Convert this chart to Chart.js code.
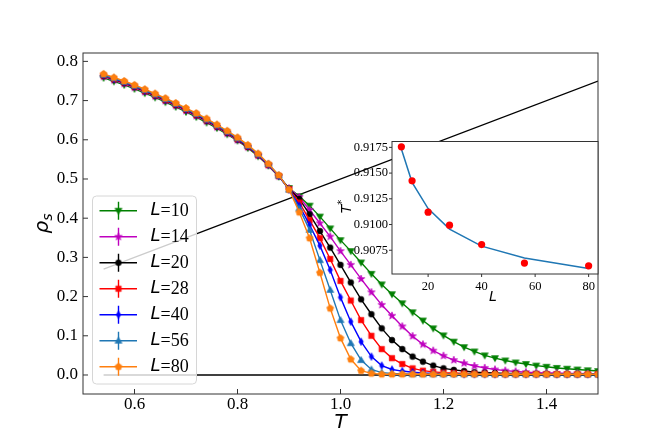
<!DOCTYPE html>
<html>
<head>
<meta charset="utf-8">
<script src="https://cdn.jsdelivr.net/npm/chart.js@4.4.0/dist/chart.umd.min.js"></script>
<style>
    body { margin: 0; background: #fff; }
    #wrap { position: relative; width: 664px; height: 443px; }
    #mainChart { position: absolute; left: 0; top: 0; }
    #insetChart { position: absolute; left: 320px; top: 130px; }
</style>
</head>
<body>
<div id="wrap">
    <canvas id="mainChart" width="664" height="443"></canvas>
    <canvas id="insetChart" width="290" height="180"></canvas>
</div>
<script>
// temperatures of the main plot
const tValues = [0.54, 0.56, 0.58, 0.60, 0.62, 0.64, 0.66, 0.68, 0.70, 0.72,
    0.74, 0.76, 0.78, 0.80, 0.82, 0.84, 0.86, 0.88, 0.90, 0.92,
    0.94, 0.96, 0.98, 1.00, 1.02, 1.04, 1.06, 1.08, 1.10, 1.12,
    1.14, 1.16, 1.18, 1.20, 1.22, 1.24, 1.26, 1.28, 1.30, 1.32,
    1.34, 1.36, 1.38, 1.40, 1.42, 1.44, 1.46, 1.48, 1.50];

// superfluid density per system size
const rhoL10 = [0.758, 0.749, 0.740, 0.730, 0.719, 0.708, 0.696, 0.684, 0.671, 0.658,
    0.644, 0.630, 0.614, 0.598, 0.579, 0.558, 0.534, 0.506, 0.477, 0.456,
    0.432, 0.404, 0.374, 0.344, 0.316, 0.287, 0.258, 0.231, 0.206, 0.183,
    0.160, 0.139, 0.119, 0.101, 0.085, 0.071, 0.060, 0.050, 0.043, 0.037,
    0.032, 0.028, 0.024, 0.021, 0.018, 0.016, 0.014, 0.012, 0.010];
const rhoL14 = [0.761, 0.752, 0.743, 0.733, 0.722, 0.711, 0.699, 0.687, 0.674, 0.661,
    0.647, 0.632, 0.616, 0.599, 0.581, 0.560, 0.535, 0.507, 0.476, 0.454,
    0.421, 0.387, 0.353, 0.316, 0.281, 0.245, 0.211, 0.179, 0.151, 0.124,
    0.099, 0.078, 0.062, 0.049, 0.038, 0.030, 0.023, 0.018, 0.014, 0.011,
    0.009, 0.007, 0.006, 0.005, 0.005, 0.004, 0.004, 0.003, 0.003];
const rhoL20 = [0.763, 0.754, 0.745, 0.735, 0.724, 0.713, 0.701, 0.689, 0.676, 0.663,
    0.649, 0.634, 0.618, 0.601, 0.582, 0.561, 0.536, 0.508, 0.475, 0.449,
    0.410, 0.367, 0.325, 0.281, 0.236, 0.193, 0.155, 0.119, 0.089, 0.066,
    0.047, 0.034, 0.024, 0.017, 0.013, 0.010, 0.007, 0.006, 0.005, 0.004,
    0.004, 0.003, 0.003, 0.003, 0.002, 0.002, 0.002, 0.002, 0.002];
const rhoL28 = [0.764, 0.755, 0.746, 0.736, 0.725, 0.714, 0.702, 0.690, 0.677, 0.664,
    0.650, 0.635, 0.619, 0.602, 0.583, 0.561, 0.536, 0.508, 0.474, 0.440,
    0.395, 0.349, 0.296, 0.240, 0.190, 0.140, 0.100, 0.066, 0.043, 0.028,
    0.017, 0.011, 0.008, 0.006, 0.005, 0.004, 0.003, 0.003, 0.002, 0.002,
    0.002, 0.002, 0.002, 0.002, 0.002, 0.002, 0.002, 0.002, 0.002];
const rhoL40 = [0.765, 0.756, 0.747, 0.737, 0.726, 0.715, 0.703, 0.691, 0.678, 0.665,
    0.651, 0.636, 0.620, 0.603, 0.584, 0.562, 0.537, 0.508, 0.473, 0.432,
    0.383, 0.330, 0.268, 0.198, 0.136, 0.085, 0.047, 0.024, 0.014, 0.010,
    0.007, 0.005, 0.004, 0.003, 0.003, 0.002, 0.002, 0.002, 0.002, 0.002,
    0.002, 0.002, 0.002, 0.002, 0.002, 0.002, 0.002, 0.002, 0.002];
const rhoL56 = [0.766, 0.757, 0.748, 0.738, 0.727, 0.716, 0.704, 0.692, 0.679, 0.666,
    0.652, 0.637, 0.621, 0.604, 0.585, 0.563, 0.538, 0.509, 0.473, 0.425,
    0.370, 0.293, 0.217, 0.140, 0.081, 0.038, 0.014, 0.006, 0.004, 0.003,
    0.002, 0.002, 0.002, 0.002, 0.002, 0.002, 0.002, 0.002, 0.002, 0.002,
    0.002, 0.002, 0.002, 0.002, 0.002, 0.002, 0.002, 0.002, 0.002];
const rhoL80 = [0.768, 0.759, 0.750, 0.740, 0.729, 0.718, 0.706, 0.694, 0.681, 0.668,
    0.654, 0.639, 0.623, 0.606, 0.587, 0.565, 0.539, 0.510, 0.473, 0.415,
    0.349, 0.261, 0.170, 0.094, 0.040, 0.011, 0.004, 0.002, 0.002, 0.002,
    0.002, 0.002, 0.002, 0.002, 0.002, 0.002, 0.002, 0.002, 0.002, 0.002,
    0.002, 0.002, 0.002, 0.002, 0.002, 0.002, 0.002, 0.002, 0.002];

// straight reference lines (rho = T/2 and rho = 0)
const refLineT = [0.54, 1.50];
const refLineRho = [0.27, 0.75];
const zeroLineT = [0.54, 1.50];
const zeroLineRho = [0.0, 0.0];

// inset: crossing temperature vs L
const insetSizes = [10, 14, 20, 28, 40, 56, 80];
const tStarData = [0.91755, 0.91425, 0.91120, 0.90994, 0.90805, 0.90625, 0.90598];
const tStarFit = [0.91735, 0.91410, 0.91155, 0.90955, 0.90790, 0.90675, 0.90572];

// tick labels
const xTicks = [0.6, 0.8, 1.0, 1.2, 1.4];
const yTicks = [0.0, 0.1, 0.2, 0.3, 0.4, 0.5, 0.6, 0.7, 0.8];
const insetXTicks = [20, 40, 60, 80];
const insetYTicks = [0.9075, 0.9100, 0.9125, 0.9150, 0.9175];

const seriesSizes = [10, 14, 20, 28, 40, 56, 80];
const seriesValues = [rhoL10, rhoL14, rhoL20, rhoL28, rhoL40, rhoL56, rhoL80];
const seriesColors = ['#008000', '#bf00bf', '#000000', '#ff0000', '#0000ff', '#1f77b4', '#ff7f0e'];
const seriesMarkers = ['triDown', 'star', 'circle', 'square', 'thinDiamond', 'triUp', 'pentagon'];

const serif = "'Liberation Serif', 'Times New Roman', serif";
const mathFont = "'DejaVu Sans', sans-serif";

function makeMarker(shape, color) {
    const c = document.createElement('canvas');
    c.width = 12;
    c.height = 12;
    const ctx = c.getContext('2d');
    const cx = 6, cy = 6;
    ctx.fillStyle = color;
    ctx.strokeStyle = color;
    ctx.lineWidth = 0.7;
    ctx.beginPath();
    if (shape === 'circle') {
        ctx.arc(cx, cy, 2.9, 0, Math.PI * 2);
    } else if (shape === 'square') {
        ctx.rect(cx - 2.7, cy - 2.7, 5.4, 5.4);
    } else if (shape === 'triDown') {
        ctx.moveTo(cx - 3.5, cy - 2.4);
        ctx.lineTo(cx + 3.5, cy - 2.4);
        ctx.lineTo(cx, cy + 3.5);
    } else if (shape === 'triUp') {
        ctx.moveTo(cx - 3.5, cy + 2.4);
        ctx.lineTo(cx + 3.5, cy + 2.4);
        ctx.lineTo(cx, cy - 3.5);
    } else if (shape === 'thinDiamond') {
        ctx.moveTo(cx, cy - 3.7);
        ctx.lineTo(cx + 2.2, cy);
        ctx.lineTo(cx, cy + 3.7);
        ctx.lineTo(cx - 2.2, cy);
    } else if (shape === 'star') {
        for (let i = 0; i < 10; i++) {
            const r = i % 2 ? 1.6 : 3.9;
            const a = -Math.PI / 2 + i * Math.PI / 5;
            const px = cx + r * Math.cos(a), py = cy + r * Math.sin(a);
            if (i === 0) ctx.moveTo(px, py); else ctx.lineTo(px, py);
        }
    } else if (shape === 'pentagon') {
        for (let i = 0; i < 5; i++) {
            const a = -Math.PI / 2 + i * 2 * Math.PI / 5;
            const px = cx + 3.6 * Math.cos(a), py = cy + 3.6 * Math.sin(a);
            if (i === 0) ctx.moveTo(px, py); else ctx.lineTo(px, py);
        }
    }
    ctx.closePath();
    ctx.fill();
    ctx.stroke();
    return c;
}

const markerImages = seriesMarkers.map((m, i) => makeMarker(m, seriesColors[i]));

function toPoints(xs, ys) {
    return xs.map((x, i) => ({ x: x, y: ys[i] }));
}

function drawFrameAndTicks(chart, tickLen, inward) {
    const ctx = chart.ctx;
    const a = chart.chartArea;
    const xs = chart.scales.x, ys = chart.scales.y;
    ctx.save();
    ctx.strokeStyle = '#333';
    ctx.lineWidth = 1;
    ctx.beginPath();
    xs.ticks.forEach(t => {
        const px = xs.getPixelForValue(t.value);
        ctx.moveTo(px, a.bottom);
        ctx.lineTo(px, inward ? a.bottom - tickLen : a.bottom + tickLen);
    });
    ys.ticks.forEach(t => {
        const py = ys.getPixelForValue(t.value);
        ctx.moveTo(a.left, py);
        ctx.lineTo(inward ? a.left + tickLen : a.left - tickLen, py);
    });
    ctx.stroke();
    ctx.strokeRect(a.left, a.top, a.right - a.left, a.bottom - a.top);
    ctx.restore();
}

const mainDecor = {
    id: 'mainDecor',
    afterDatasetsDraw(chart) {
        const ctx = chart.ctx;
        const a = chart.chartArea;
        drawFrameAndTicks(chart, 5, true);

        // legend inside the axes, lower left
        const box = { x: a.left + 9.5, y: a.bottom - 198, w: 104, h: 188 };
        ctx.save();
        ctx.fillStyle = 'rgba(255,255,255,0.8)';
        ctx.strokeStyle = '#d6d6d6';
        ctx.lineWidth = 1;
        ctx.beginPath();
        ctx.roundRect(box.x, box.y, box.w, box.h, 4);
        ctx.fill();
        ctx.stroke();
        seriesSizes.forEach((size, i) => {
            const cy = box.y + 14.7 + i * 26;
            const hx = box.x + 26;
            ctx.strokeStyle = seriesColors[i];
            ctx.lineWidth = 1.4;
            ctx.beginPath();
            ctx.moveTo(box.x + 7, cy);
            ctx.lineTo(box.x + 44.5, cy);
            ctx.moveTo(hx, cy - 9);
            ctx.lineTo(hx, cy + 9);
            ctx.stroke();
            const img = markerImages[i];
            ctx.drawImage(img, hx - img.width / 2, cy - img.height / 2);
            ctx.fillStyle = '#000';
            ctx.textBaseline = 'middle';
            ctx.textAlign = 'left';
            ctx.font = 'italic 18px ' + mathFont;
            const tx = box.x + 58;
            ctx.fillText('L', tx, cy);
            const lw = ctx.measureText('L').width;
            ctx.font = '18px ' + serif;
            ctx.fillText('=' + size, tx + lw, cy + 0.5);
        });
        ctx.restore();
    },
    afterDraw(chart) {
        const ctx = chart.ctx;
        ctx.save();
        ctx.fillStyle = '#000';
        ctx.textAlign = 'center';
        ctx.textBaseline = 'middle';
        ctx.font = 'italic 20px ' + mathFont;
        ctx.fillText('T', (chart.chartArea.left + chart.chartArea.right) / 2, 423);
        // rotated rho_s
        ctx.translate(45, (chart.chartArea.top + chart.chartArea.bottom) / 2);
        ctx.rotate(-Math.PI / 2);
        ctx.textAlign = 'left';
        ctx.font = 'italic 20px ' + mathFont;
        const rw = ctx.measureText('\u03c1').width;
        ctx.font = 'italic 14px ' + mathFont;
        const sw = ctx.measureText('s').width;
        const x0 = -(rw + sw) / 2;
        ctx.font = 'italic 20px ' + mathFont;
        ctx.fillText('\u03c1', x0, -2);
        ctx.font = 'italic 14px ' + mathFont;
        ctx.fillText('s', x0 + rw, 3);
        ctx.restore();
    }
};

const mainDatasets = seriesValues.map((vals, i) => ({
    label: 'L=' + seriesSizes[i],
    data: toPoints(tValues, vals),
    borderColor: seriesColors[i],
    backgroundColor: seriesColors[i],
    borderWidth: 1.4,
    pointStyle: markerImages[i],
    pointRadius: 3,
    order: seriesSizes.length - i
}));
mainDatasets.push({
    label: 'ref',
    data: toPoints(refLineT, refLineRho),
    borderColor: '#000',
    borderWidth: 1.3,
    pointRadius: 0,
    order: 20
});
mainDatasets.push({
    label: 'zero',
    data: toPoints(zeroLineT, zeroLineRho),
    borderColor: '#000',
    borderWidth: 1.3,
    pointRadius: 0,
    order: 21
});

new Chart(document.getElementById('mainChart'), {
    type: 'line',
    data: { datasets: mainDatasets },
    options: {
        responsive: false,
        animation: false,
        events: [],
        layout: { padding: { left: 0, top: 53, right: 66, bottom: 0 } },
        plugins: { legend: { display: false }, tooltip: { enabled: false } },
        scales: {
            x: {
                type: 'linear',
                min: 0.5,
                max: 1.5,
                afterBuildTicks: s => { s.ticks = xTicks.map(v => ({ value: v })); },
                afterFit: s => { s.height = 49; },
                grid: { display: false, drawTicks: false },
                border: { display: false },
                ticks: {
                    color: '#000',
                    padding: 0,
                    maxRotation: 0,
                    font: { family: serif, size: 17 },
                    callback: v => v.toFixed(1)
                }
            },
            y: {
                type: 'linear',
                min: -0.0485,
                max: 0.8214,
                afterBuildTicks: s => { s.ticks = yTicks.map(v => ({ value: v })); },
                afterFit: s => { s.width = 83; },
                grid: { display: false, drawTicks: false },
                border: { display: false },
                ticks: {
                    color: '#000',
                    padding: 5,
                    font: { family: serif, size: 17 },
                    callback: v => v.toFixed(1)
                }
            }
        }
    },
    plugins: [mainDecor]
});

const insetDecor = {
    id: 'insetDecor',
    beforeDraw(chart) {
        const a = chart.chartArea;
        chart.ctx.save();
        chart.ctx.fillStyle = '#fff';
        chart.ctx.fillRect(a.left, a.top, a.right - a.left, a.bottom - a.top);
        chart.ctx.restore();
    },
    afterDatasetsDraw(chart) {
        drawFrameAndTicks(chart, 3, false);
    },
    afterDraw(chart) {
        const ctx = chart.ctx;
        const a = chart.chartArea;
        ctx.save();
        ctx.fillStyle = '#000';
        ctx.textAlign = 'center';
        ctx.textBaseline = 'middle';
        ctx.font = 'italic 14px ' + mathFont;
        ctx.fillText('L', (a.left + a.right) / 2 - 2, 167);
        ctx.translate(27, 76);
        ctx.rotate(-Math.PI / 2);
        ctx.textAlign = 'left';
        const tw = ctx.measureText('T').width;
        ctx.fillText('T', -tw / 2 - 3, 0);
        ctx.font = '10px ' + mathFont;
        ctx.fillText('*', tw / 2 - 3, -5);
        ctx.restore();
    }
};

new Chart(document.getElementById('insetChart'), {
    type: 'line',
    data: {
        datasets: [
            {
                data: toPoints(insetSizes, tStarData),
                showLine: false,
                pointRadius: 3.6,
                pointBackgroundColor: '#ff0000',
                pointBorderWidth: 0,
                order: 1
            },
            {
                data: toPoints(insetSizes, tStarFit),
                borderColor: '#1f77b4',
                borderWidth: 1.5,
                pointRadius: 0,
                order: 2
            }
        ]
    },
    options: {
        responsive: false,
        animation: false,
        events: [],
        layout: { padding: { left: 0, top: 8, right: 12, bottom: 0 } },
        plugins: { legend: { display: false }, tooltip: { enabled: false } },
        scales: {
            x: {
                type: 'linear',
                min: 6.5,
                max: 83.5,
                afterBuildTicks: s => { s.ticks = insetXTicks.map(v => ({ value: v })); },
                afterFit: s => { s.height = 36; },
                grid: { display: false, drawTicks: false },
                border: { display: false },
                ticks: {
                    color: '#000',
                    padding: 5,
                    maxRotation: 0,
                    font: { family: serif, size: 12.5 },
                    callback: v => String(v)
                }
            },
            y: {
                type: 'linear',
                min: 0.90519,
                max: 0.91807,
                afterBuildTicks: s => { s.ticks = insetYTicks.map(v => ({ value: v })); },
                afterFit: s => { s.width = 72; },
                grid: { display: false, drawTicks: false },
                border: { display: false },
                ticks: {
                    color: '#000',
                    padding: 4,
                    font: { family: serif, size: 12.5 },
                    callback: v => v.toFixed(4)
                }
            }
        }
    },
    plugins: [insetDecor]
});
</script>
</body>
</html>
